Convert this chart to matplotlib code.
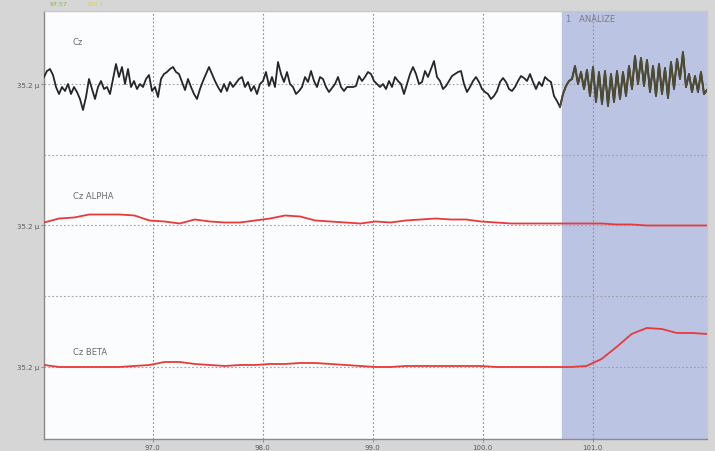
#!/usr/bin/env python
'''
plot.py
  Redraws an EEG review screen: raw Cz channel with its alpha and beta
  band envelopes, with the analysed section shaded on the right.
  Saves the figure as out.png
'''

import numpy as np
import matplotlib.pyplot as plt

#
# Data (amplitudes are in screen pixels, up is positive)
#

# time axis limits (seconds) and the analysed section
T_START = 96.01
T_END = 102.04
ANALYZE_START = 100.72

# raw Cz trace, one value about every 3 pixels
cz_values = [
    7, 13, 15, 9, -3, -10, -3, -7, 0, -10,
    -3, -8, -15, -26, -13, 5, -5, -15, -3, 3,
    -5, -3, -10, 5, 20, 7, 17, 0, 15, -3,
    3, -5, 0, -3, 5, 9, -7, -3, -13, 5,
    10, 12, 15, 17, 12, 10, 2, -6, 5, -3,
    -10, -15, -5, 3, 10, 17, 10, 3, -3, -8,
    0, -7, 2, -3, 1, 5, 7, -3, 2, -7,
    -2, -10, 0, 3, 12, -2, 7, -3, 22, 10,
    2, 12, 0, -3, -10, -7, -3, 7, 2, 13,
    3, -3, 7, 5, -3, -8, -4, 0, 7, -3,
    -7, -3, -3, -3, -2, 8, 3, 7, 12, 10,
    3, 0, -3, 0, -5, 3, -3, 7, 3, 0,
    -10, 0, 10, 17, 10, 0, 2, 13, 7, 15,
    23, 7, 3, -5, -2, 3, 8, 10, 12, 13,
    0, -8, -3, 3, 7, 2, -5, -8, -10, -15,
    -12, -7, 2, 6, 2, -5, -7, -3, 3, 8,
    6, 3, 10, 2, -5, 2, -2, 7, 4, 2,
    -12, -17, -23, -10, -2, 3, 5, 18, 0, 12,
    -5, 14, -12, 17, -18, 12, -20, 13, -22, 10,
    -18, 13, -15, 12, -12, 18, -5, 28, 0, 26,
    -2, 24, -8, 18, -12, 20, -10, 16, -14, 22,
    -5, 25, 5, 32, -3, 10, -8, 8, -8, 12,
    -10, -6,
]

# alpha band envelope, one value about every 15 pixels
alpha_values = [
    3, 7, 8, 11, 11, 11, 10, 5, 4, 2,
    6, 4, 3, 3, 5, 7, 10, 9, 5, 4,
    3, 2, 4, 3, 5, 6, 7, 6, 6, 4,
    3, 2, 2, 2, 2, 2, 2, 2, 1, 1,
    0, 0, 0, 0, 0,
]

# beta band envelope, one value about every 15 pixels
beta_values = [
    2, 0, 0, 0, 0, 0, 1, 2, 5, 5,
    3, 2, 1, 2, 2, 3, 3, 4, 4, 3,
    2, 1, 0, 0, 1, 1, 1, 1, 1, 1,
    0, 0, 0, 0, 0, 0, 1, 8, 20, 33,
    39, 38, 34, 34, 33,
]

channel_names = ["Cz", "Cz ALPHA", "Cz BETA"]
channel_scale = "35.2 \u00b5"
x_ticks = [97.0, 98.0, 99.0, 100.0, 101.0]

# pixels between two channel baselines
PX_PER_CHANNEL = 141.5


def main():
    fig = plt.figure(figsize=(7.15, 4.52), dpi=100, facecolor="#d6d6d6")
    ax = fig.add_axes([44 / 715, 12 / 452, 663 / 715, 428 / 452])
    ax.set_facecolor("#fbfcfe")

    # time stamps for each trace
    t_cz = np.linspace(T_START, T_END, len(cz_values))
    t_alpha = np.linspace(T_START, T_END, len(alpha_values))
    t_beta = np.linspace(T_START, T_END, len(beta_values))

    # channel baselines are stacked at 0, -1, -2
    cz = np.array(cz_values) / PX_PER_CHANNEL
    alpha = np.array(alpha_values) / PX_PER_CHANNEL - 1
    beta = np.array(beta_values) / PX_PER_CHANNEL - 2

    # shaded analysis section
    ax.axvspan(ANALYZE_START, T_END, color="#bcc4e4", zorder=0)

    # grid: dotted, one line per second and per half channel
    for t in x_ticks:
        ax.axvline(t, color="#8c8c8c", lw=0.8, ls=(0, (1.5, 2)), zorder=1)
    for level in [0, -0.5, -1, -1.5, -2]:
        ax.axhline(level, color="#a0a0a0", lw=0.8, ls=(0, (1.5, 2)), zorder=1)

    # raw trace, black outside and olive inside the analysed section
    ax.plot(t_cz, cz, color="#262626", lw=1.3, zorder=3)
    inside = t_cz >= ANALYZE_START - 0.02
    ax.plot(t_cz[inside], cz[inside], color="#4e4b2e", lw=1.3, zorder=4)

    ax.plot(t_alpha, alpha, color="#e83a3a", lw=1.3, zorder=3)
    ax.plot(t_beta, beta, color="#e83a3a", lw=1.3, zorder=3)

    # channel names
    name_y = [0.30, -0.79, -1.89]
    for name, y in zip(channel_names, name_y):
        ax.text(96.27, y, name, fontsize=6, color="#6a6a6a", va="center")

    ax.text(100.76, 0.465, "1   ANALIZE", fontsize=6, color="#7a7a80",
            va="center")

    # the small markers above the plot
    fig.text(50 / 715, 1 - 5 / 452, "97.57", fontsize=4.5, color="#7cb83a",
             va="center")
    fig.text(86 / 715, 1 - 5 / 452, "100.1", fontsize=4.5, color="#d8d060",
             va="center")

    ax.set_xlim(T_START, T_END)
    ax.set_ylim(-2.509, 0.516)

    ax.set_xticks(x_ticks)
    ax.set_xticklabels(["{:.1f}".format(t) for t in x_ticks])
    ax.set_yticks([0, -1, -2])
    ax.set_yticklabels([channel_scale] * 3)
    ax.tick_params(axis="both", labelsize=5, labelcolor="#5a5a5a",
                   color="#808080", length=2, width=0.6, pad=1.5)

    for side in ["top", "right"]:
        ax.spines[side].set_color("#c8c8c8")
    ax.spines["left"].set_color("#8a8a8a")
    ax.spines["bottom"].set_color("#8a8a8a")
    for spine in ax.spines.values():
        spine.set_linewidth(1.0)

    fig.savefig("out.png", dpi=100, facecolor=fig.get_facecolor())


main()
